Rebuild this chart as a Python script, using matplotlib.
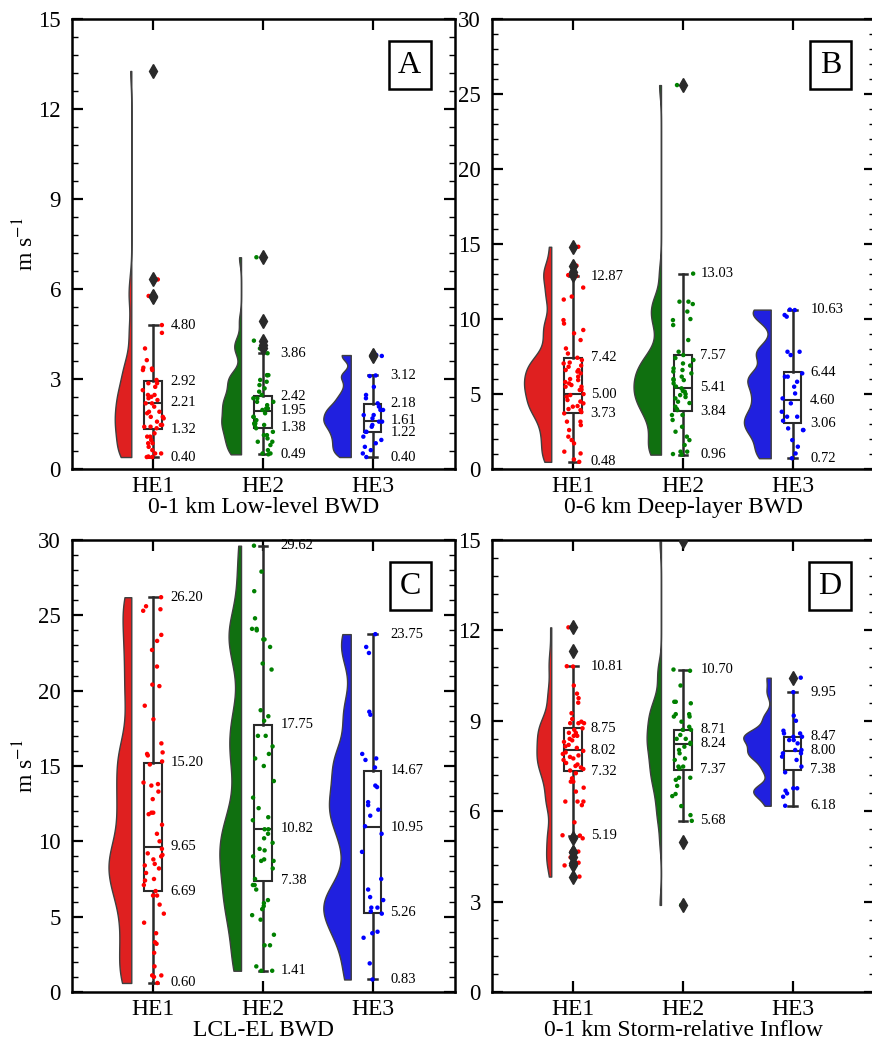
import numpy as np
import pandas as pd
import matplotlib
matplotlib.use("Agg")
import matplotlib.pyplot as plt
import seaborn as sns
from matplotlib.mlab import GaussianKDE
from matplotlib.ticker import MultipleLocator, AutoMinorLocator

plt.rcParams["font.family"] = ["Liberation Serif", "DejaVu Serif"]
plt.rcParams["mathtext.fontset"] = "stix"

groups = ["HE1", "HE2", "HE3"]
point_colors = ["red", "green", "blue"]
violin_colors = ["#df2020", "#107010", "#2020df"]

# ---- values (m s-1) ----
a_he1 = [13.27, 6.32, 5.77, 5.72, 4.80, 4.54, 4.02, 3.63, 3.38, 3.35, 3.30, 3.30, 2.97, 2.86, 2.86,
         2.74, 2.63, 2.47, 2.47, 2.41, 2.36, 2.30, 2.19, 2.19, 2.08, 1.91, 1.91, 1.86, 1.74, 1.74,
         1.69, 1.58, 1.47, 1.47, 1.41, 1.41, 1.36, 1.19, 1.08, 1.08, 0.97, 0.86, 0.86, 0.74, 0.63,
         0.52, 0.52, 0.41, 0.41, 0.40, 0.40]
a_he2 = [7.06, 4.94, 4.28, 4.15, 4.02, 3.86, 3.13, 3.13, 3.13, 2.97, 2.91, 2.80, 2.69, 2.58, 2.47,
         2.36, 2.36, 2.24, 2.24, 2.13, 2.02, 2.02, 1.97, 1.86, 1.74, 1.74, 1.63, 1.52, 1.52, 1.47,
         1.47, 1.36, 1.24, 1.13, 1.13, 1.02, 0.91, 0.91, 0.80, 0.63, 0.52, 0.52, 0.49]
a_he3 = [3.80, 3.77, 3.12, 3.10, 2.74, 2.47, 2.36, 2.19, 2.08, 1.97, 1.97, 1.80, 1.80, 1.69, 1.58,
         1.58, 1.47, 1.41, 1.24, 1.24, 1.08, 0.97, 0.86, 0.74, 0.63, 0.52, 0.40]

b_he1 = [14.82, 13.56, 13.16, 12.93, 12.87, 12.10, 11.50, 11.30, 9.93, 9.70, 9.27, 9.05, 8.60, 8.04,
         7.70, 7.42, 7.27, 7.10, 7.04, 6.90, 6.82, 6.60, 6.60, 6.50, 6.38, 6.16, 6.00, 5.93, 5.80,
         5.71, 5.60, 5.49, 5.49, 5.30, 5.27, 5.00, 4.93, 4.82, 4.60, 4.50, 4.38, 4.20, 4.16, 4.00,
         3.93, 3.80, 3.71, 3.16, 3.16, 2.93, 2.60, 2.16, 1.93, 1.71, 1.16, 1.04, 0.64, 0.48]
b_he2 = [25.60, 13.03, 11.16, 11.16, 11.00, 10.50, 10.00, 9.93, 9.60, 8.60, 7.82, 7.60, 7.40, 7.27,
         7.04, 6.90, 6.71, 6.60, 6.50, 6.38, 6.16, 6.00, 5.93, 5.93, 5.71, 5.50, 5.38, 5.20, 5.16,
         5.00, 4.93, 4.80, 4.71, 4.49, 4.40, 4.16, 4.00, 3.93, 3.60, 3.60, 3.27, 2.82, 2.49, 2.16,
         1.93, 1.60, 1.16, 1.16, 1.00, 0.96]
b_he3 = [10.63, 10.60, 10.27, 10.16, 7.82, 7.82, 7.60, 6.38, 6.16, 6.16, 5.82, 5.49, 5.04, 4.71,
         4.38, 3.82, 3.49, 3.49, 3.22, 2.71, 2.60, 2.60, 1.93, 1.49, 1.04, 0.72]

c_he1 = [26.2, 25.6, 25.4, 25.3, 23.7, 23.3, 22.7, 21.6, 20.4, 20.3, 19.0, 18.1, 16.5, 15.9, 15.8,
         15.7, 15.3, 15.1, 13.9, 13.8, 13.7, 13.3, 12.8, 11.9, 11.9, 11.8, 11.1, 10.5, 10.0, 9.5,
         9.2, 9.1, 9.0, 8.8, 8.5, 8.4, 8.2, 7.9, 7.5, 7.4, 7.1, 6.7, 6.4, 6.4, 5.8, 5.2, 4.6, 3.9,
         3.3, 3.2, 2.6, 1.7, 1.1, 1.1, 1.0, 0.6]
c_he2 = [29.62, 27.9, 26.6, 24.8, 24.1, 24.1, 24.0, 23.4, 23.4, 22.9, 21.8, 21.4, 18.7, 18.3, 18.0,
         17.0, 17.0, 16.3, 15.8, 15.5, 15.0, 14.0, 12.9, 12.2, 11.6, 11.4, 10.8, 10.8, 10.5, 10.2,
         9.9, 9.5, 9.4, 9.0, 8.8, 8.7, 8.7, 8.2, 7.5, 7.1, 7.1, 6.8, 6.1, 5.9, 5.7, 5.5, 5.1, 4.8,
         3.8, 3.1, 3.1, 1.7, 1.41, 1.41]
c_he3 = [23.75, 22.9, 22.5, 18.6, 18.4, 15.8, 15.5, 15.4, 14.9, 13.7, 13.6, 12.6, 12.4, 12.1, 11.7,
         11.0, 10.5, 9.3, 7.5, 6.8, 6.3, 6.1, 5.6, 5.6, 5.35, 5.2, 4.0, 3.9, 3.6, 1.9, 0.83]

d_he1 = [12.10, 11.30, 10.81, 10.80, 10.17, 9.90, 9.75, 9.60, 9.25, 9.06, 8.97, 8.92, 8.92, 8.92,
         8.75, 8.70, 8.60, 8.60, 8.50, 8.50, 8.40, 8.35, 8.30, 8.20, 8.15, 8.10, 8.00, 7.95, 7.90,
         7.85, 7.80, 7.75, 7.70, 7.60, 7.55, 7.50, 7.45, 7.40, 7.35, 7.26, 7.09, 6.98, 6.98, 6.78,
         6.65, 6.32, 6.32, 6.32, 6.20, 5.63, 5.20, 5.19, 5.10, 4.66, 4.66, 4.47, 4.29, 4.20, 3.83]
d_he2 = [14.95, 10.70, 10.66, 10.17, 9.63, 9.63, 9.58, 9.22, 9.22, 9.14, 9.14, 8.97, 8.80, 8.70,
         8.70, 8.53, 8.40, 8.40, 8.27, 8.23, 8.14, 8.03, 7.92, 7.75, 7.70, 7.48, 7.48, 7.42, 7.11,
         7.11, 7.04, 6.84, 6.57, 6.50, 6.17, 5.87, 5.68, 4.99, 2.89]
d_he3 = [10.43, 9.95, 9.17, 9.00, 8.67, 8.58, 8.58, 8.47, 8.47, 8.36, 8.36, 8.25, 8.03, 8.03, 7.92,
         7.92, 7.81, 7.70, 7.48, 7.29, 6.76, 6.76, 6.68, 6.59, 6.48, 6.18]

# box statistics: lower whisker, Q1, median, Q3, upper whisker
a_box = [[0.40, 1.32, 2.21, 2.92, 4.80], [0.49, 1.38, 1.95, 2.42, 3.86], [0.40, 1.22, 1.61, 2.18, 3.12]]
b_box = [[0.48, 3.73, 5.00, 7.42, 12.87], [0.96, 3.84, 5.41, 7.57, 13.03], [0.72, 3.06, 4.60, 6.44, 10.63]]
c_box = [[0.60, 6.69, 9.65, 15.20, 26.20], [1.41, 7.38, 10.82, 17.75, 29.62], [0.83, 5.26, 10.95, 14.67, 23.75]]
d_box = [[5.19, 7.32, 8.02, 8.75, 10.81], [5.68, 7.37, 8.24, 8.71, 10.70], [6.18, 7.38, 8.00, 8.47, 9.95]]


def draw_panel(ax, series, box_vals, ymax, ymajor, letter, xlabel, ylabel=None):
    # half violins (area scaled, cut at data range)
    kdes = []
    for vals in series:
        v = np.asarray(vals, dtype=float)
        kde = GaussianKDE(v, bw_method=0.2)
        y = np.linspace(v.min(), v.max(), 300)
        kdes.append((y, kde.evaluate(y)))
    peak = max(d.max() for _, d in kdes)
    for i, (y, d) in enumerate(kdes):
        edge = i - 0.2
        ax.fill_betweenx(y, edge - d / peak * 0.25, edge, facecolor=violin_colors[i],
                         edgecolor="#3f3f3f", lw=1, zorder=1)

    # boxes
    stats = []
    for vals, b in zip(series, box_vals):
        v = np.asarray(vals, dtype=float)
        fl = v[(v < b[0]) | (v > b[4])]
        stats.append(dict(whislo=b[0], q1=b[1], med=b[2], q3=b[3], whishi=b[4], fliers=fl))
    bp = ax.bxp(stats, positions=[0, 1, 2], widths=0.16, capwidths=0.08, patch_artist=True,
                boxprops=dict(facecolor="white", edgecolor="#2a2a2a", lw=1.5),
                medianprops=dict(color="#2a2a2a", lw=1.5),
                whiskerprops=dict(color="#2a2a2a", lw=1.8),
                capprops=dict(color="#2a2a2a", lw=1.8),
                flierprops=dict(marker="d", mfc="#2a2a2a", mec="#2a2a2a", ms=7),
                zorder=2)
    for f in bp["fliers"]:
        f.set_zorder(4)

    # rain points
    df = pd.DataFrame({"group": np.repeat(groups, [len(s) for s in series]),
                       "value": np.concatenate(series)})
    sns.stripplot(data=df, x="group", y="value", hue="group", palette=point_colors,
                  jitter=0.1, size=3.2, linewidth=0, ax=ax, legend=False, zorder=3)

    # value labels
    for i, b in enumerate(box_vals):
        for v in b:
            ax.text(i + 0.16, v, f"{v:.2f}", va="center", ha="left", fontsize=10.5)

    ax.set_xlim(-0.74, 2.75)
    ax.set_ylim(0, ymax)
    ax.set_xticks([0, 1, 2])
    ax.set_xticklabels(groups)
    ax.yaxis.set_major_locator(MultipleLocator(ymajor))
    ax.yaxis.set_minor_locator(AutoMinorLocator(5))
    ax.tick_params(which="major", direction="in", top=True, right=True, width=1.6, length=8)
    ax.tick_params(axis="x", labelsize=17, pad=5)
    ax.tick_params(axis="y", labelsize=16.5, pad=8)
    ax.tick_params(axis="y", which="minor", direction="in", left=True, right=True, width=1, length=4)
    for s in ax.spines.values():
        s.set_linewidth(1.8)
    ax.set_xlabel(xlabel, fontsize=17, labelpad=0)
    if ylabel:
        ax.set_ylabel(ylabel, fontsize=17, labelpad=0)
    else:
        ax.set_ylabel("")
    ax.text(0.912, 0.93, letter, transform=ax.transAxes, ha="right", va="top", fontsize=23,
            bbox=dict(boxstyle="square,pad=0.3", fc="white", ec="black", lw=1.8), zorder=5)


def main():
    np.random.seed(3)
    fig = plt.figure(figsize=(8.72, 10.43), dpi=100)
    ax_a = fig.add_axes([0.0826, 0.5503, 0.4392, 0.4314])
    ax_b = fig.add_axes([0.5642, 0.5503, 0.4392, 0.4314])
    ax_c = fig.add_axes([0.0826, 0.0489, 0.4392, 0.4334])
    ax_d = fig.add_axes([0.5642, 0.0489, 0.4392, 0.4334])

    draw_panel(ax_a, [a_he1, a_he2, a_he3], a_box, 15, 3, "A", "0-1 km Low-level BWD", "m s$^{-1}$")
    draw_panel(ax_b, [b_he1, b_he2, b_he3], b_box, 30, 5, "B", "0-6 km Deep-layer BWD")
    draw_panel(ax_c, [c_he1, c_he2, c_he3], c_box, 30, 5, "C", "LCL-EL BWD", "m s$^{-1}$")
    draw_panel(ax_d, [d_he1, d_he2, d_he3], d_box, 15, 3, "D", "0-1 km Storm-relative Inflow")

    fig.savefig("out.png", dpi=100)
    plt.close(fig)


if __name__ == "__main__":
    main()
